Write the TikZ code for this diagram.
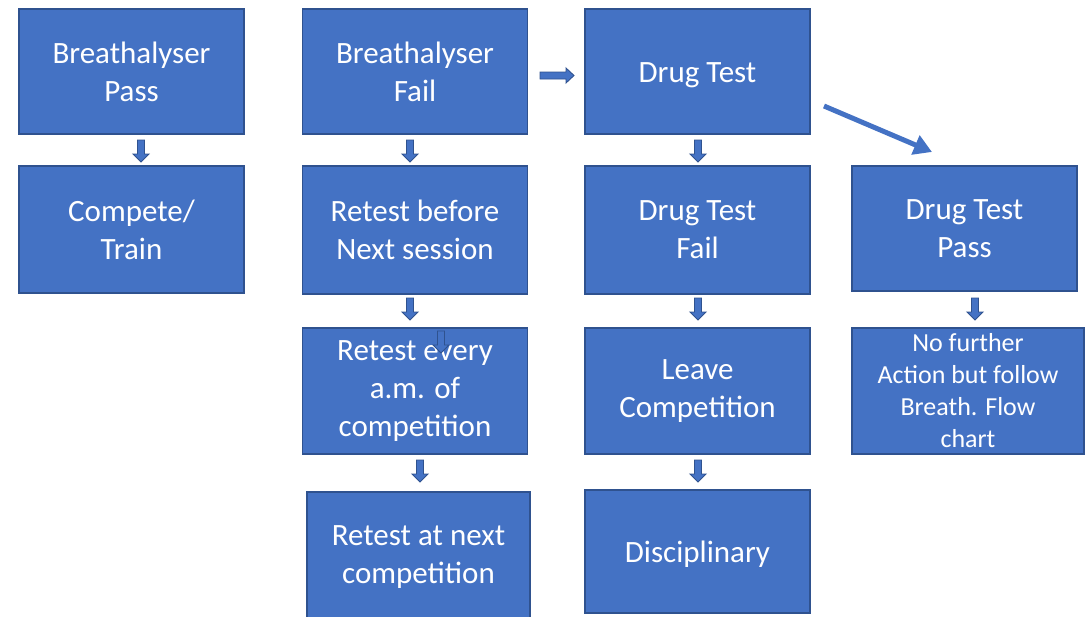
\documentclass[tikz,border=0pt]{standalone}
\usepackage{fontspec}
\setmainfont{Carlito}
\usetikzlibrary{arrows.meta}
\definecolor{boxfill}{HTML}{4472C4}
\definecolor{boxline}{HTML}{2F528F}
\tikzset{
  box/.style={draw=boxline, fill=boxfill, line width=1.6pt, text=white, align=center,
    minimum width=225pt, minimum height=125pt, inner sep=0pt,
    font=\fontsize{31}{38}\selectfont},
  oneline/.style={text height=29pt, text depth=7pt},
  smallbox/.style={box, font=\fontsize{26}{32}\selectfont},
  blockarrow/.style={draw=boxline, fill=boxfill, line width=0.9pt, line join=miter},
  pics/downarrow/.style={code={
    \path[blockarrow] (-3.5,0) -- (3.5,0) -- (3.5,14) -- (8,14) -- (0,22) -- (-8,14) -- (-3.5,14) -- cycle;
  }},
  pics/rightarrow/.style={code={
    \path[blockarrow] (0,3.5) -- (26,3.5) -- (26,7.5) -- (34,0) -- (26,-7.5) -- (26,-3.5) -- (0,-3.5) -- cycle;
  }},
}
\begin{document}
\begin{tikzpicture}[x=1pt,y=-1pt]
\useasboundingbox (0,0) rectangle (1092,616);
\clip (0,0) rectangle (1092,616);
% column 1
\node[box] (bp) at (131.5,71.5) {Breathalyser\\Pass};
\node[box, minimum height=127pt] (ct) at (131.5,229.5) {Compete/\\Train};
% column 2
\node[box] (bf) at (415,71.5) {Breathalyser\\Fail};
\node[box, minimum height=128pt] (rb) at (415,230) {Retest before\\Next session};
\node[box, minimum height=126pt] (re) at (415,391) {Retest every\\a.m. of\\competition};
\node[box, minimum width=223pt, minimum height=130pt] (rn) at (418.5,557) {Retest at next\\competition};
% column 3
\node[box, oneline] (dt) at (697.5,71.5) {Drug Test};
\node[box, minimum height=128pt] (df) at (697.5,230) {Drug Test\\Fail};
\node[box, minimum height=126pt] (lc) at (697.5,391) {Leave\\Competition};
\node[box, oneline, minimum height=123pt] (di) at (697.5,551.5) {Disciplinary};
% column 4
\node[box] (dp) at (964.5,228.5) {Drug Test\\Pass};
\node[smallbox, minimum width=232pt, minimum height=126pt] (nf) at (968,391) {No further\\Action but follow\\Breath. Flow\\chart};
% block arrows
\pic at (141,140) {downarrow};
\pic at (410,140) {downarrow};
\pic at (698,140) {downarrow};
\pic at (410,298) {downarrow};
\pic at (698,298) {downarrow};
\pic at (975,298) {downarrow};
\pic at (441,331) {downarrow};
\pic at (420,460) {downarrow};
\pic at (698,460) {downarrow};
\pic at (540,75.5) {rightarrow};
% diagonal arrow
\coordinate (dstart) at (824,106);
\coordinate (dend) at (932,152);
\draw[boxfill, line width=5pt, -{Triangle[length=18pt,width=20pt]}] (dstart) -- (dend);
\end{tikzpicture}
\end{document}
